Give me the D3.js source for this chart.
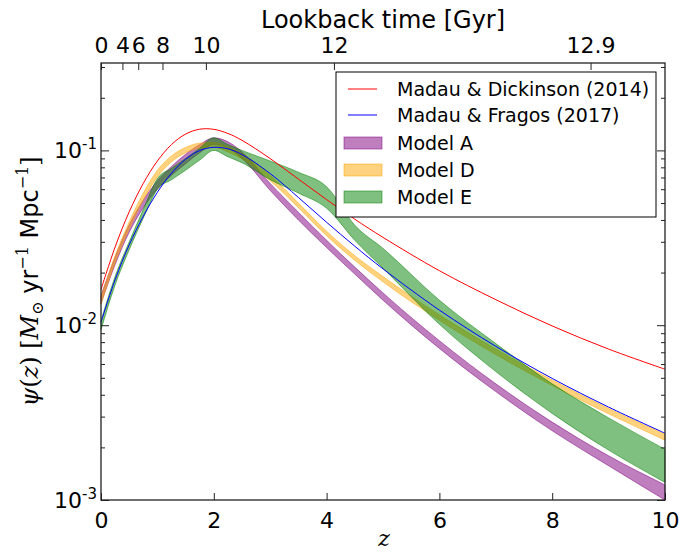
<!DOCTYPE html>
<html><head><meta charset="utf-8">
<script src="https://cdn.jsdelivr.net/npm/d3@7"></script>
<style>body{margin:0;background:#fff}svg{display:block}</style>
</head><body>
<svg id="c" width="679" height="555"></svg>
<script>
// ---- data ----
const zGrid = [0, 0.25, 0.5, 0.75, 1, 1.25, 1.5, 1.75, 2, 2.25, 2.5, 3, 3.5, 4, 4.5, 5, 6, 7, 8, 9, 10];
const madauDickinson = [0.0160, 0.0280, 0.0445, 0.0648, 0.0870, 0.1080, 0.1240, 0.1322, 0.1320, 0.1250, 0.1142, 0.0898, 0.0685, 0.0523, 0.0404, 0.0318, 0.0205, 0.0140, 0.0099, 0.0073, 0.0056];
const madauFragos   = [0.0104, 0.0182, 0.0288, 0.0420, 0.0576, 0.0740, 0.0890, 0.0998, 0.1042, 0.1020, 0.0947, 0.0737, 0.0538, 0.0388, 0.0283, 0.0210, 0.0122, 0.00757, 0.00496, 0.00340, 0.00241];
const modelAUpper = [0.0148, 0.0245, 0.0375, 0.0520, 0.0670, 0.0810, 0.0950, 0.1080, 0.1180, 0.1120, 0.0980, 0.0647, 0.0443, 0.0306, 0.0215, 0.0153, 0.00815, 0.00462, 0.00279, 0.00179, 0.00122];
const modelALower = [0.0133, 0.0222, 0.0340, 0.0470, 0.0600, 0.0720, 0.0840, 0.0970, 0.1080, 0.1030, 0.0900, 0.0590, 0.0400, 0.0278, 0.0196, 0.0139, 0.00736, 0.00417, 0.00249, 0.00157, 0.00100];
const modelDUpper = [0.0145, 0.0250, 0.0390, 0.0570, 0.0770, 0.0930, 0.1040, 0.1100, 0.1110, 0.1050, 0.0960, 0.0720, 0.0500, 0.0345, 0.0250, 0.0190, 0.01146, 0.00730, 0.00486, 0.00334, 0.00238];
const modelDLower = [0.0132, 0.0228, 0.0355, 0.0520, 0.0705, 0.0860, 0.0970, 0.1030, 0.1040, 0.0980, 0.0895, 0.0670, 0.0470, 0.0325, 0.0235, 0.0177, 0.01066, 0.00679, 0.00452, 0.00311, 0.00220];
const modelEUpper = [0.0106, 0.0190, 0.0300, 0.0460, 0.0690, 0.0790, 0.0900, 0.1030, 0.1180, 0.1080, 0.1000, 0.0870, 0.0750, 0.0620, 0.0373, 0.0275, 0.0139, 0.00785, 0.00462, 0.00295, 0.00195];
const modelELower = [0.0094, 0.0170, 0.0270, 0.0410, 0.0600, 0.0680, 0.0770, 0.0880, 0.1000, 0.0920, 0.0850, 0.0680, 0.0570, 0.0467, 0.0306, 0.0212, 0.01012, 0.00543, 0.00313, 0.00193, 0.00126];
const xTicks = [0, 2, 4, 6, 8, 10];
const lookbackZ = [0, 0.38, 0.66, 1.09, 1.86, 4.13, 8.68];
const lookbackLabels = ["0", "4", "6", "8", "10", "12", "12.9"];
const yDecades = [-3, -2, -1];
const legendLabels = ["Madau & Dickinson (2014)", "Madau & Fragos (2017)", "Model A", "Model D", "Model E"];

// ---- layout ----
const L = 101, R = 665, T = 63, B = 500;
const svg = d3.select("#c");
const x = d3.scaleLinear().domain([0, 10]).range([L, R]);
const y = d3.scaleLog().domain([1e-3, Math.pow(10, -0.5)]).range([B, T]);
const sans = "'DejaVu Sans', sans-serif";
const serif = "'DejaVu Serif', 'Liberation Serif', serif";

const g = svg.append("g");

// bands
const bands = [
  {up: modelAUpper, lo: modelALower, c: "purple"},
  {up: modelDUpper, lo: modelDLower, c: "orange"},
  {up: modelEUpper, lo: modelELower, c: "green"}
];
bands.forEach(b => {
  const area = d3.area().x((d, i) => x(zGrid[i])).y0((d, i) => y(b.lo[i])).y1((d, i) => y(b.up[i])).curve(d3.curveMonotoneX);
  g.append("path").datum(zGrid).attr("d", area)
    .attr("fill", b.c).attr("fill-opacity", 0.5)
    .attr("stroke", b.c).attr("stroke-opacity", 0.5).attr("stroke-width", 1);
});

// lines
const lines = [{v: madauDickinson, c: "#ff0000"}, {v: madauFragos, c: "#0000ff"}];
lines.forEach(l => {
  const line = d3.line().x((d, i) => x(zGrid[i])).y((d, i) => y(l.v[i])).curve(d3.curveCatmullRom.alpha(0.5));
  g.append("path").datum(zGrid).attr("d", line).attr("fill", "none").attr("stroke", l.c).attr("stroke-width", 1);
});

// axes
const axisColor = "#222";
function styleAxis(sel) {
  sel.select(".domain").remove();
  sel.selectAll(".tick line").attr("stroke", axisColor).attr("stroke-width", 1);
  sel.selectAll("text").attr("font-family", sans).attr("fill", "#000");
}
const xb = svg.append("g").attr("transform", `translate(0,${B})`)
  .call(d3.axisBottom(x).tickValues(xTicks).tickSize(-7).tickPadding(12).tickFormat(d3.format("d")));
styleAxis(xb); xb.selectAll("text").attr("font-size", 22);

const xt = svg.append("g").attr("transform", `translate(0,${T})`)
  .call(d3.axisTop(x).tickValues(lookbackZ).tickSize(-7).tickPadding(10).tickFormat((d, i) => lookbackLabels[i]));
styleAxis(xt); xt.selectAll("text").attr("font-size", 22);

const minorVals = [];
yDecades.forEach(e => { for (let k = 2; k <= 9; k++) { const v = k * Math.pow(10, e); if (v <= Math.pow(10, -0.5)) minorVals.push(v); } });
const majorVals = yDecades.map(e => Math.pow(10, e));
[[d3.axisLeft, L], [d3.axisRight, R]].forEach(([ax, px]) => {
  const gm = svg.append("g").attr("transform", `translate(${px},0)`)
    .call(ax(y).tickValues(majorVals).tickSize(-8).tickFormat(""));
  styleAxis(gm);
  const gn = svg.append("g").attr("transform", `translate(${px},0)`)
    .call(ax(y).tickValues(minorVals).tickSize(-4).tickFormat(""));
  styleAxis(gn);
});
// y tick labels
majorVals.forEach((v, i) => {
  const t = svg.append("text").attr("x", 97).attr("y", y(v) + 8).attr("text-anchor", "end")
    .attr("font-family", sans).attr("font-size", 22).attr("fill", "#000");
  t.append("tspan").text("10");
  t.append("tspan").attr("dy", -9).attr("font-size", 15).text(String(yDecades[i]));
});

// frame
svg.append("rect").attr("x", L).attr("y", T).attr("width", R - L).attr("height", B - T)
  .attr("fill", "none").attr("stroke", axisColor).attr("stroke-width", 1.3);

// titles
svg.append("text").attr("x", (L + R) / 2).attr("y", 28).attr("text-anchor", "middle")
  .attr("font-family", sans).attr("font-size", 24).text("Lookback time [Gyr]");
svg.append("text").attr("x", (L + R) / 2 + 1).attr("y", 546).attr("text-anchor", "middle")
  .attr("font-family", serif).attr("font-style", "italic").attr("font-size", 22).text("z");

const yl = svg.append("text").attr("transform", `translate(38,${(T + B) / 2}) rotate(-90)`)
  .attr("text-anchor", "middle").attr("font-size", 24).attr("fill", "#000");
yl.append("tspan").attr("font-family", serif).attr("font-style", "italic").text("ψ");
yl.append("tspan").attr("font-family", serif).text("(");
yl.append("tspan").attr("font-family", serif).attr("font-style", "italic").text("z");
yl.append("tspan").attr("font-family", serif).text(") [");
yl.append("tspan").attr("font-family", serif).attr("font-style", "italic").text("M");
yl.append("tspan").attr("font-family", serif).attr("font-size", 16).attr("dy", 5).text("⊙");
yl.append("tspan").attr("font-family", sans).attr("dy", -5).text(" yr");
yl.append("tspan").attr("font-family", serif).attr("font-size", 16).attr("dy", -10).text("−1");
yl.append("tspan").attr("font-family", sans).attr("dy", 10).text(" Mpc");
yl.append("tspan").attr("font-family", serif).attr("font-size", 16).attr("dy", -10).text("−1");
yl.append("tspan").attr("font-family", serif).attr("dy", 10).text("]");

// legend
const lg = svg.append("g");
lg.append("rect").attr("x", 336).attr("y", 72).attr("width", 320).attr("height", 145)
  .attr("fill", "#fff").attr("stroke", "#000").attr("stroke-width", 1);
const rowY = [89, 115, 143, 170, 197];
const legendStyles = [
  {type: "line", c: "#ff0000"}, {type: "line", c: "#0000ff"},
  {type: "patch", c: "purple"}, {type: "patch", c: "orange"}, {type: "patch", c: "green"}
];
legendStyles.forEach((s, i) => {
  if (s.type === "line") {
    lg.append("line").attr("x1", 348).attr("x2", 377).attr("y1", rowY[i]).attr("y2", rowY[i])
      .attr("stroke", s.c).attr("stroke-width", 1);
  } else {
    lg.append("rect").attr("x", 344).attr("y", rowY[i] - 6).attr("width", 38).attr("height", 12)
      .attr("fill", s.c).attr("fill-opacity", 0.5).attr("stroke", s.c).attr("stroke-opacity", 0.5);
  }
  lg.append("text").attr("x", 397).attr("y", rowY[i] + 7).attr("font-family", sans)
    .attr("font-size", 19).attr("fill", "#000").text(legendLabels[i]);
});
</script>
</body></html>
